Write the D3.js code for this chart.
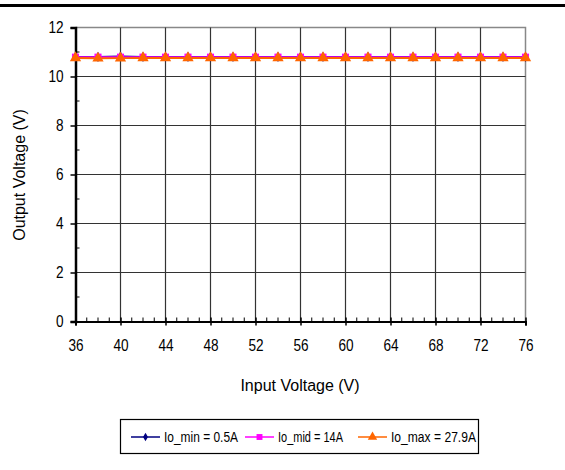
<!DOCTYPE html>
<html><head><meta charset="utf-8">
<script src="https://d3js.org/d3.v7.min.js"></script>
<style>body{margin:0;background:#fff}svg{display:block;font-family:"Liberation Sans",Arial,sans-serif}</style>
</head><body>
<script>
const inputV = [36,38,40,42,44,46,48,50,52,54,56,58,60,62,64,66,68,70,72,74,76];
const ioMin = [10.80,10.80,10.82,10.80,10.80,10.80,10.80,10.80,10.80,10.80,10.80,10.80,10.80,10.80,10.80,10.80,10.80,10.80,10.80,10.80,10.80];
const ioMid = [10.79,10.79,10.79,10.79,10.79,10.79,10.79,10.79,10.79,10.79,10.79,10.79,10.79,10.79,10.79,10.79,10.79,10.79,10.79,10.79,10.79];
const ioMax = [10.76,10.74,10.75,10.76,10.76,10.76,10.76,10.76,10.76,10.76,10.76,10.76,10.76,10.76,10.76,10.76,10.76,10.76,10.76,10.76,10.76];
const xTicks = [36,40,44,48,52,56,60,64,68,72,76];
const yTicks = [0,2,4,6,8,10,12];
const seriesNames = ["Io_min = 0.5A","Io_mid = 14A","Io_max = 27.9A"];
const seriesColors = ["#000080","#ff00ff","#ff6600"];
const seriesData = [ioMin, ioMid, ioMax];

const W=565,H=470;
const svg=d3.select("body").append("svg").attr("width",W).attr("height",H);
const x=d3.scaleLinear().domain([36,76]).range([75.5,525.5]);
const y=d3.scaleLinear().domain([0,12]).range([321.5,27.5]);

// header rule
svg.append("line").attr("x1",0).attr("x2",W).attr("y1",5.5).attr("y2",5.5).attr("stroke","#000").attr("stroke-width",3);

// plot border (top/right)
svg.append("path").attr("d",`M${x(36)},${y(12)}H${x(76)}V${y(0)}`).attr("fill","none").attr("stroke","#888").attr("stroke-width",1.5);

// gridlines
svg.append("g").selectAll("line").data(xTicks.slice(1,-1)).join("line")
 .attr("x1",d=>x(d)).attr("x2",d=>x(d)).attr("y1",y(12)).attr("y2",y(0)).attr("stroke","#333").attr("stroke-width",1.2);
svg.append("g").selectAll("line").data(yTicks.slice(1,-1)).join("line")
 .attr("x1",x(36)).attr("x2",x(76)).attr("y1",d=>y(d)).attr("y2",d=>y(d)).attr("stroke","#333").attr("stroke-width",1.2);

function condense(sel, sx){
  sel.each(function(){
    const t=d3.select(this);
    const bb=this.getBBox();
    const cx=bb.x+bb.width/2;
    t.attr("transform",(t.attr("transform")||"")+` translate(${cx},0) scale(${sx},1) translate(${-cx},0)`);
  });
}

// x axis
const xa=svg.append("g").attr("transform",`translate(0,${y(0)})`)
 .call(d3.axisBottom(x).tickValues(xTicks).tickSize(4).tickPadding(14).tickFormat(d3.format("d")));
xa.select(".domain").attr("stroke","#000").attr("stroke-width",2);
xa.selectAll(".tick line").attr("stroke","#000").attr("stroke-width",1.5).attr("y1",-4);
xa.selectAll("text").attr("font-size",16).attr("fill","#000");
condense(xa.selectAll("text"),0.85);
const minorX=d3.range(36,77,1).filter(v=>v%4!==0);
svg.append("g").selectAll("line").data(minorX).join("line")
 .attr("x1",d=>x(d)).attr("x2",d=>x(d)).attr("y1",y(0)).attr("y2",y(0)-4).attr("stroke","#000").attr("stroke-width",1);

// y axis
const ya=svg.append("g").attr("transform",`translate(${x(36)},0)`)
 .call(d3.axisLeft(y).tickValues(yTicks).tickSize(5).tickPadding(7));
ya.select(".domain").attr("stroke","#000").attr("stroke-width",2.5);
ya.selectAll(".tick line").attr("stroke","#000").attr("stroke-width",1.5);
ya.selectAll("text").attr("font-size",16).attr("fill","#000");
ya.selectAll("text").each(function(){
  const t=d3.select(this); const bb=this.getBBox(); const rx=bb.x+bb.width;
  t.attr("transform",`translate(${rx},0) scale(0.85,1) translate(${-rx},0)`);
});
const minorY=[1,3,5,7,9,11];
svg.append("g").selectAll("line").data(minorY).join("line")
 .attr("x1",x(36)).attr("x2",x(36)+4).attr("y1",d=>y(d)).attr("y2",d=>y(d)).attr("stroke","#000").attr("stroke-width",1);

// titles
svg.append("text").attr("x",300).attr("y",391).attr("text-anchor","middle").attr("font-size",16).text("Input Voltage (V)");
svg.append("text").attr("transform",`translate(25,175) rotate(-90)`).attr("text-anchor","middle").attr("font-size",16).text("Output Voltage (V)");

// series
const line=d3.line().x((d,i)=>x(inputV[i])).y(d=>y(d));
const markers=[d3.symbolDiamond,d3.symbolSquare,d3.symbolTriangle];
const msize=[30,50,55];
seriesData.forEach((s,k)=>{
  svg.append("path").datum(s).attr("d",line).attr("fill","none").attr("stroke",seriesColors[k]).attr("stroke-width",2);
});
seriesData.forEach((s,k)=>{
  svg.append("g").selectAll("path").data(s).join("path")
   .attr("transform",(d,i)=>`translate(${x(inputV[i])},${y(d)})`)
   .attr("d",d3.symbol().type(markers[k]).size(msize[k])).attr("fill",seriesColors[k]);
});

// legend
const lg=svg.append("g");
lg.append("rect").attr("x",120.5).attr("y",419.5).attr("width",358).attr("height",34).attr("fill","#fff").attr("stroke","#000").attr("stroke-width",1.2);
const lx=[131,245,358];
const lw=[74,65,85];
seriesNames.forEach((n,k)=>{
  const g=lg.append("g").attr("transform",`translate(${lx[k]},437)`);
  g.append("line").attr("x1",0).attr("x2",29).attr("stroke",seriesColors[k]).attr("stroke-width",1.5);
  g.append("path").attr("transform","translate(14.5,0)").attr("d",d3.symbol().type(markers[k]).size(msize[k]*0.7)).attr("fill",seriesColors[k]);
  g.append("text").attr("x",33).attr("y",5).attr("font-size",14).attr("textLength",lw[k]).attr("lengthAdjust","spacingAndGlyphs").text(n);
});
</script>
</body></html>
